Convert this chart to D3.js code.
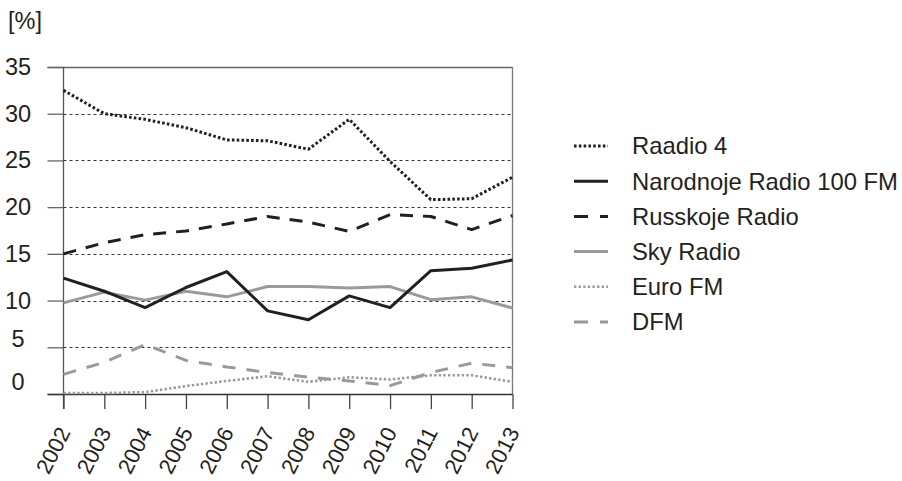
<!DOCTYPE html>
<html>
<head>
<meta charset="utf-8">
<script src="https://cdn.jsdelivr.net/npm/d3@7"></script>
<style>
  html, body { margin: 0; padding: 0; background: #fff; }
  svg { display: block; font-family: "Liberation Sans", Arial, sans-serif; }
</style>
</head>
<body>
<svg id="chart" width="902" height="481"></svg>
<script>
// ---- data ----
const years = [2002, 2003, 2004, 2005, 2006, 2007, 2008, 2009, 2010, 2011, 2012, 2013];
const yTicks = [0, 5, 10, 15, 20, 25, 30, 35];
const seriesNames = ["Raadio 4", "Narodnoje Radio 100 FM", "Russkoje Radio", "Sky Radio", "Euro FM", "DFM"];
const raadio4   = [32.5, 30.0, 29.4, 28.5, 27.2, 27.1, 26.2, 29.4, 24.9, 20.8, 20.9, 23.2];
const narodnoje = [12.4, 11.0, 9.25, 11.4, 13.1, 8.9, 7.95, 10.5, 9.25, 13.2, 13.45, 14.35];
const russkoje  = [15.0, 16.2, 17.05, 17.45, 18.2, 19.0, 18.4, 17.4, 19.2, 19.0, 17.6, 19.1];
const skyRadio  = [9.75, 10.9, 10.05, 11.0, 10.4, 11.5, 11.5, 11.35, 11.5, 10.1, 10.4, 9.2];
const euroFM    = [0.1, 0.1, 0.2, 0.85, 1.4, 1.9, 1.3, 1.8, 1.55, 2.0, 2.0, 1.3];
const dfm       = [2.1, 3.4, 5.3, 3.6, 2.9, 2.3, 1.8, 1.4, 0.9, 2.3, 3.3, 2.8];

const seriesValues = [raadio4, narodnoje, russkoje, skyRadio, euroFM, dfm];

// ---- styles ----
const BLACK = "#231f20", GREY = "#9a9a9a";
const styles = [
  { color: BLACK, width: 3,   dash: "2.6,2.2" },
  { color: BLACK, width: 3,   dash: null },
  { color: BLACK, width: 3,   dash: "13,10" },
  { color: GREY,  width: 3,   dash: null },
  { color: GREY,  width: 2.6, dash: "2.4,2.2" },
  { color: GREY,  width: 3,   dash: "13,11" }
];

const svg = d3.select("#chart");
const mLeft = 63.5, mRight = 512.5, mTop = 67, mBottom = 394;

const x = d3.scalePoint().domain(years).range([mLeft, mRight]);
const y = d3.scaleLinear().domain([0, 35]).range([mBottom, mTop]);

// unit label
svg.append("text").attr("x", 8).attr("y", 29)
  .attr("font-size", 23.5).attr("fill", "#231f20").text("[%]");

// gridlines (dotted)
svg.append("g").selectAll("line")
  .data(yTicks.filter(d => d > 0 && d < 35))
  .join("line")
  .attr("x1", mLeft).attr("x2", mRight)
  .attr("y1", d => Math.round(y(d)) + 0.5).attr("y2", d => Math.round(y(d)) + 0.5)
  .attr("stroke", "#333").attr("stroke-width", 1).attr("stroke-dasharray", "3,3");

// top border & right border
svg.append("line").attr("x1", 47.5).attr("x2", mRight).attr("y1", mTop + 0.5).attr("y2", mTop + 0.5)
  .attr("stroke", "#666").attr("stroke-width", 1.3);
svg.append("line").attr("x1", mRight).attr("x2", mRight).attr("y1", mTop).attr("y2", mBottom)
  .attr("stroke", "#777").attr("stroke-width", 1.3);

// y axis
const yAxis = svg.append("g").attr("transform", `translate(${mLeft},0)`)
  .call(d3.axisLeft(y).tickValues(yTicks).tickSize(16).tickPadding(0).tickSizeOuter(0));
yAxis.select(".domain").remove();
yAxis.selectAll(".tick line").attr("stroke", "#666").attr("stroke-width", 1.3);
yAxis.selectAll(".tick text")
  .attr("x", 18 - mLeft).attr("text-anchor", "middle")
  .attr("font-size", 23.5).attr("fill", "#231f20")
  .attr("font-family", "Liberation Sans, Arial, sans-serif")
  .attr("dy", d => d === 0 ? "-0.2em" : d === 5 ? "-0.05em" : "0.32em");
svg.append("line").attr("x1", mLeft).attr("x2", mLeft).attr("y1", mTop).attr("y2", mBottom + 15)
  .attr("stroke", "#555").attr("stroke-width", 1.3);

// x axis
const xAxis = svg.append("g").attr("transform", `translate(0,${mBottom})`)
  .call(d3.axisBottom(x).tickSize(15).tickSizeOuter(0));
xAxis.select(".domain").remove();
xAxis.selectAll(".tick line").attr("stroke", "#444").attr("stroke-width", 1.3);
xAxis.selectAll(".tick text")
  .attr("font-size", 22).attr("fill", "#231f20")
  .attr("font-family", "Liberation Sans, Arial, sans-serif")
  .attr("text-anchor", "end")
  .attr("dy", 0).attr("y", 0)
  .attr("transform", "translate(7,38) rotate(-63)");
svg.append("line").attr("x1", 47.5).attr("x2", mRight).attr("y1", mBottom + 0.5).attr("y2", mBottom + 0.5)
  .attr("stroke", "#333").attr("stroke-width", 1.4);

// lines
const line = d3.line().x((d, i) => x(years[i])).y(d => y(d));
const drawOrder = [5, 4, 3, 2, 1, 0];
const g = svg.append("g");
drawOrder.forEach(k => {
  const s = styles[k];
  g.append("path").datum(seriesValues[k])
    .attr("d", line)
    .attr("fill", "none")
    .attr("stroke", s.color)
    .attr("stroke-width", s.width)
    .attr("stroke-linejoin", "round")
    .attr("stroke-dasharray", s.dash);
});

// legend
const legendY = d3.scalePoint().domain(seriesNames).range([146, 322]);
const lg = svg.append("g");
seriesNames.forEach((name, k) => {
  const s = styles[k];
  const cy = legendY(name);
  lg.append("line").attr("x1", 574).attr("x2", 608).attr("y1", cy).attr("y2", cy)
    .attr("stroke", s.color).attr("stroke-width", s.width)
    .attr("stroke-dasharray", k === 2 || k === 5 ? "14,12" : s.dash);
  lg.append("text").attr("x", 632).attr("y", cy).attr("dy", "0.35em")
    .attr("font-size", 23.8).attr("fill", "#231f20").text(name);
});
</script>
</body>
</html>
